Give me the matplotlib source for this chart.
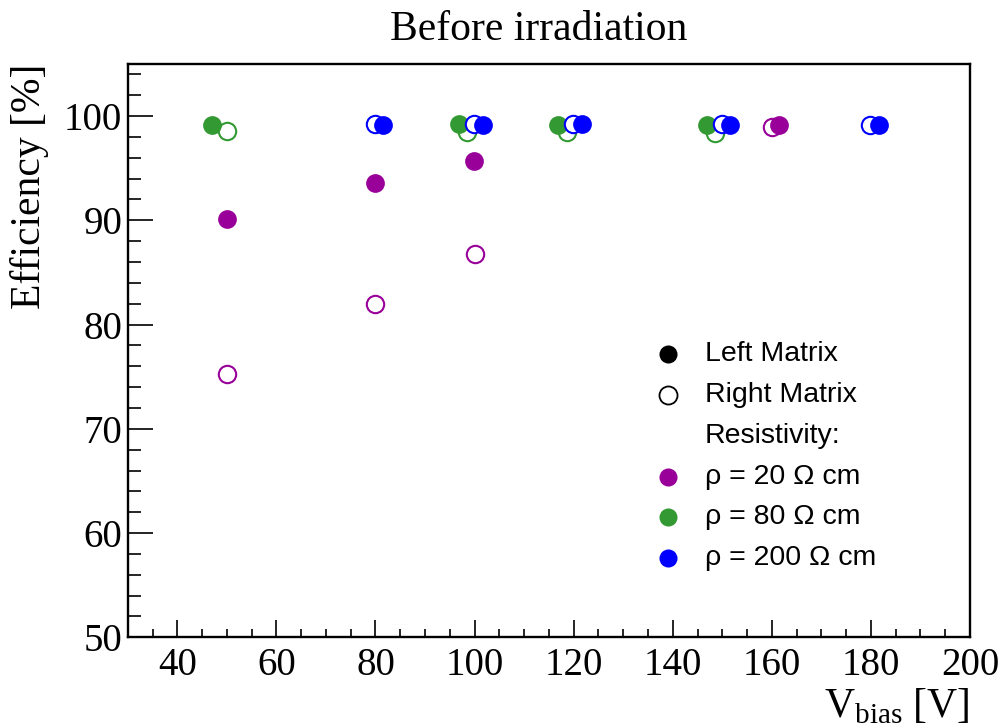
import matplotlib
matplotlib.use("Agg")
import matplotlib.pyplot as plt
from matplotlib.ticker import MultipleLocator

plt.rcParams['font.family'] = ['Liberation Serif', 'DejaVu Serif']
plt.rcParams['mathtext.fontset'] = 'custom'
plt.rcParams['mathtext.rm'] = 'Liberation Serif'

# data (V_bias [V], efficiency [%])
rho20_left_v = [50.0, 80.0, 99.9, 161.5]
rho20_left_eff = [90.1, 93.6, 95.7, 99.1]
rho20_right_v = [50.0, 80.0, 100.0, 160.0]
rho20_right_eff = [75.3, 82.0, 86.8, 99.0]

rho80_left_v = [46.9, 96.9, 116.9, 147.0]
rho80_left_eff = [99.1, 99.2, 99.1, 99.1]
rho80_right_v = [50.0, 98.4, 118.6, 148.6]
rho80_right_eff = [98.6, 98.5, 98.5, 98.4]

rho200_left_v = [81.6, 101.6, 121.6, 151.6, 181.6]
rho200_left_eff = [99.1, 99.1, 99.2, 99.1, 99.1]
rho200_right_v = [79.9, 99.8, 119.9, 149.9, 179.9]
rho200_right_eff = [99.2, 99.2, 99.2, 99.2, 99.1]

purple = '#990099'
green = '#339933'
blue = '#0000ff'

series = [
    (rho20_right_v, rho20_right_eff, rho20_left_v, rho20_left_eff, purple),
    (rho80_right_v, rho80_right_eff, rho80_left_v, rho80_left_eff, green),
    (rho200_right_v, rho200_right_eff, rho200_left_v, rho200_left_eff, blue),
]

fig = plt.figure(figsize=(10.03, 7.28), dpi=100)
ax = fig.add_axes([0.1274, 0.1246, 0.8397, 0.7875])

for rv, reff, lv, leff, col in series:
    ax.plot(rv, reff, 'o', ls='none', ms=12.5, mfc='white', mec=col, mew=1.5)
    ax.plot(lv, leff, 'o', ls='none', ms=13.5, mfc=col, mec=col, mew=0)

ax.set_xlim(30, 200)
ax.set_ylim(50, 105)

ax.xaxis.set_major_locator(MultipleLocator(20))
ax.xaxis.set_minor_locator(MultipleLocator(5))
ax.yaxis.set_major_locator(MultipleLocator(10))
ax.yaxis.set_minor_locator(MultipleLocator(2))

ax.tick_params(axis='both', which='both', direction='in', top=False, right=False,
               labelsize=28, width=1.2, color='black')
ax.tick_params(axis='x', which='major', length=12, pad=7)
ax.tick_params(axis='x', which='minor', length=6)
ax.tick_params(axis='y', which='major', length=18, pad=4)
ax.tick_params(axis='y', which='minor', length=9)

for s in ax.spines.values():
    s.set_linewidth(1.7)

ax.set_title('Before irradiation', fontsize=30, pad=17, x=0.488)
ax.set_ylabel('Efficiency [%]', fontsize=30, loc='top')
ax.yaxis.label.set_va('center')
ax.yaxis.set_label_coords(-0.117, 1.0)
ax.set_xlabel(r'V$_{\rm bias}$ [V]', fontsize=30, loc='right')
ax.xaxis.set_label_coords(1.0, -0.085)

# legend drawn by hand to follow the ROOT layout
leg_rows = [
    ('Left Matrix', 'black', 'black'),
    ('Right Matrix', 'white', 'black'),
    ('Resistivity:', None, None),
    ('\u03c1 = 20 \u03a9 cm', purple, purple),
    ('\u03c1 = 80 \u03a9 cm', green, green),
    ('\u03c1 = 200 \u03a9 cm', blue, blue),
]
row_y0 = 0.494
row_dy = 0.0712
for i, (lab, fc, ec) in enumerate(leg_rows):
    yy = row_y0 - i * row_dy
    if fc is not None:
        ax.plot([0.641], [yy], 'o', transform=ax.transAxes, ms=13, mfc=fc,
                mec=ec, mew=1.3 if fc == 'white' else 0, clip_on=False)
    ax.text(0.685, yy, lab, transform=ax.transAxes, fontsize=20.5,
            family=['Liberation Sans', 'DejaVu Sans'], va='center', ha='left')

fig.savefig('out.png', dpi=100)
